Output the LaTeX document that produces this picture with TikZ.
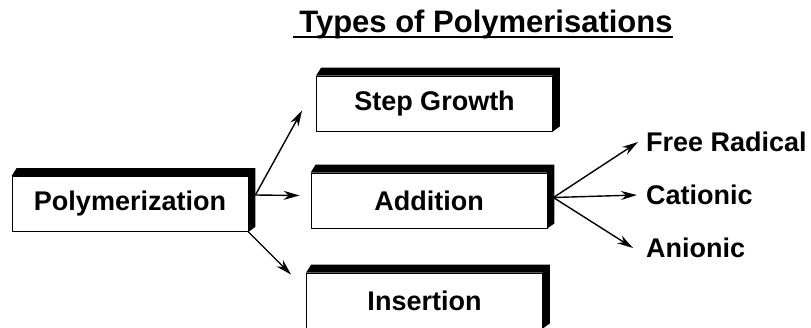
\documentclass[tikz,border=0pt]{standalone}
\usepackage{fontspec}
\setmainfont{Liberation Sans}
\usetikzlibrary{arrows.meta,calc}

\begin{document}
\begin{tikzpicture}[x=1pt,y=-1pt,
	box/.style={draw,line width=0.8pt,fill=white,minimum width=236pt,minimum height=55pt,inner sep=0pt,font=\fontsize{27}{32}\selectfont\bfseries},
	lbl/.style={anchor=west,inner sep=0pt,font=\fontsize{27}{32}\selectfont\bfseries},
	arr/.style={line width=1.4pt,-{Stealth[length=16pt,width=9pt]}}]
	\useasboundingbox (0,0) rectangle (811,327);
	\node[anchor=base,inner sep=0pt,font=\fontsize{31}{36}\selectfont\bfseries] (title) at (486,32) {Types of Polymerisations};
	\draw[line width=2pt] ([shift={(-6pt,-5pt)}]title.base west) -- ([yshift=-5pt]title.base east);
	\node[box] (poly) at (130,204) {Polymerization};
	\node[box] (step) at (434.5,103.5) {Step Growth};
	\node[box] (add) at (429,200.5) {Addition};
	\node[box] (ins) at (424.5,300.5) {Insertion};
	\foreach \n in {poly,step,add,ins}
		\fill (\n.north west) -- ++(5,-8) -- ($(\n.north east)+(7,-8)$) -- ($(\n.south east)+(7,-5)$) -- (\n.south east) -- (\n.north east) -- cycle;
	\node[lbl] (free) at (646,142) {Free Radical};
	\node[lbl] (cat) at (646,195) {Cationic};
	\node[lbl] (an) at (646,248) {Anionic};
	\coordinate (po) at ($(poly.east)+(7,-9)$);
	\coordinate (ao) at ($(add.east)+(6,-3)$);
	\draw[arr] (po) -- ($(step.south west)+(-14,-21)$);
	\draw[arr] (po) -- ($(add.west)+(-11,-5)$);
	\draw[arr] (poly.south east) -- ($(ins.north west)+(-15,2)$);
	\draw[arr] (ao) -- ([xshift=-8pt]free.west);
	\draw[arr] (ao) -- ([xshift=-9pt]cat.west);
	\draw[arr] (ao) -- ([xshift=-13pt]an.west);
\end{tikzpicture}
\end{document}
